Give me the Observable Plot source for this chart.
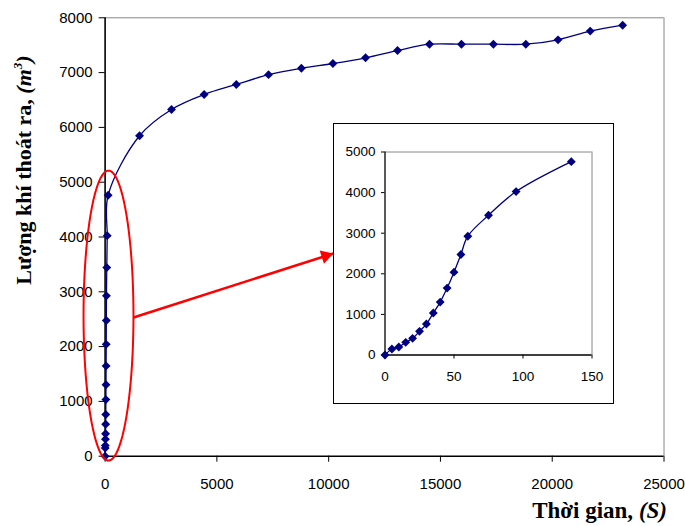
<!DOCTYPE html>
<html>
<head>
<meta charset="utf-8">
<script src="https://cdn.jsdelivr.net/npm/d3@7"></script>
<script src="https://cdn.jsdelivr.net/npm/@observablehq/plot@0.6"></script>
<style>
  html, body { margin: 0; padding: 0; background: #fff; }
  #wrap { position: relative; width: 685px; height: 526px; overflow: hidden; }
  #main { position: absolute; left: 0; top: 0; }
  #inset { position: absolute; left: 333px; top: 123px; width: 279px; height: 279px; border: 1.5px solid #000; background: #fff; }
  #inset svg { display: block; }
  .ttl { position: absolute; font-family: "Liberation Serif", "Times New Roman", serif; font-weight: bold; white-space: nowrap; color: #000; line-height: 1; }
  #xtitle { right: 18px; top: 499px; font-size: 23px; }
  #ytitle { left: 24px; top: 170px; font-size: 22px; transform: translate(-50%, -50%) rotate(-90deg); }
  sup { font-size: 0.6em; vertical-align: 0.7em; line-height: 0; }
</style>
</head>
<body>
<div id="wrap">
  <div id="main"></div>
  <div id="inset"></div>
  <div class="ttl" id="xtitle">Thời gian, <i>(S)</i></div>
  <div class="ttl" id="ytitle">Lượng khí thoát ra, <i>(m<sup>3</sup>)</i></div>
</div>
<script>
// ---- Data ----
// Early readings (seconds) – shown in the inset
const earlyTime = [0, 5, 10, 15, 20, 25, 30, 35, 40, 45, 50, 55, 60, 75, 95, 135];
const earlyGas  = [0, 148, 197, 311, 410, 582, 762, 1033, 1303, 1648, 2041, 2476, 2926, 3442, 4025, 4762];
// Later readings (seconds)
const lateTime = [1540, 2970, 4430, 5870, 7310, 8780, 10190, 11650, 13080, 14510, 15940, 17370, 18820, 20260, 21700, 23150];
const lateGas  = [5847, 6327, 6600, 6783, 6962, 7080, 7166, 7270, 7403, 7518, 7518, 7518, 7518, 7598, 7757, 7865];

// Tick labels
const mainXTicks  = [0, 5000, 10000, 15000, 20000, 25000];
const mainYTicks  = [0, 1000, 2000, 3000, 4000, 5000, 6000, 7000, 8000];
const insetXTicks = [0, 50, 100, 150];
const insetYTicks = [0, 1000, 2000, 3000, 4000, 5000];

// Annotation: highlight ellipse (data units) and arrow to the inset
const ellipseCenter = {t: 152, gas: 2566};
const ellipseRadius = {t: 1117, gas: 2646};
const arrowFrom = {t: 1269, gas: 2531};
const arrowTo   = {t: 10206, gas: 3699};

// ---- Build tables ----
const early = earlyTime.map((t, i) => ({t, gas: earlyGas[i]}));
const all = early.concat(lateTime.map((t, i) => ({t, gas: lateGas[i]})));
const ellipse = d3.range(0, 361, 4).map(a => {
  const r = a * Math.PI / 180;
  return {t: ellipseCenter.t + ellipseRadius.t * Math.cos(r), gas: ellipseCenter.gas + ellipseRadius.gas * Math.sin(r)};
});

const NAVY = "#000080";
const RED = "#ff0000";
const fmt = d => String(d);

const main = Plot.plot({
  width: 685,
  height: 526,
  marginLeft: 104.6,
  marginRight: 21.5,
  marginTop: 17.3,
  marginBottom: 70.3,
  x: {domain: [0, 25000]},
  y: {domain: [0, 8000]},
  style: {fontFamily: "'Liberation Sans', Arial, sans-serif", fontSize: "15px", color: "#000", background: "#fff", overflow: "visible"},
  marks: [
    Plot.ruleY([8000], {stroke: "#888", strokeWidth: 1}),
    Plot.ruleX([25000], {stroke: "#888", strokeWidth: 1}),
    Plot.axisX({ticks: mainXTicks, tickSize: 6, tickPadding: 16, tickFormat: fmt, label: null}),
    Plot.axisY({ticks: mainYTicks, tickSize: 6, tickPadding: 6.5, tickFormat: fmt, label: null}),
    Plot.ruleX([0], {stroke: "#000", strokeWidth: 1.6}),
    Plot.ruleY([0], {stroke: "#000", strokeWidth: 1.6}),
    Plot.line(all, {x: "t", y: "gas", curve: "catmull-rom", stroke: NAVY, strokeWidth: 1.3}),
    Plot.dot(all, {x: "t", y: "gas", symbol: "diamond2", r: 4, fill: NAVY, stroke: "none"}),
    Plot.line(ellipse, {x: "t", y: "gas", stroke: RED, strokeWidth: 2, curve: "linear"}),
    Plot.link([{x1: arrowFrom.t, y1: arrowFrom.gas, x2: arrowTo.t, y2: arrowTo.gas}], {x1: "x1", y1: "y1", x2: "x2", y2: "y2", stroke: RED, strokeWidth: 2.5}),
    Plot.dot([arrowTo], {x: "t", y: "gas", symbol: "triangle", r: 5.2, fill: RED, stroke: "none", rotate: 72.3, dx: -7.6, dy: 2.4})
  ]
});
document.getElementById("main").append(main);

const inset = Plot.plot({
  width: 279,
  height: 279,
  marginLeft: 50.5,
  marginRight: 21.5,
  marginTop: 27.5,
  marginBottom: 48.5,
  x: {domain: [0, 150]},
  y: {domain: [0, 5000]},
  style: {fontFamily: "'Liberation Sans', Arial, sans-serif", fontSize: "13.5px", color: "#000", background: "#fff", overflow: "visible"},
  marks: [
    Plot.ruleY([5000], {stroke: "#888", strokeWidth: 1}),
    Plot.ruleX([150], {stroke: "#888", strokeWidth: 1}),
    Plot.axisX({ticks: insetXTicks, tickSize: 4, tickPadding: 12.5, tickFormat: fmt, label: null}),
    Plot.axisY({ticks: insetYTicks, tickSize: 3.5, tickPadding: 6, tickFormat: fmt, label: null}),
    Plot.ruleX([0], {stroke: "#000", strokeWidth: 1.3}),
    Plot.ruleY([0], {stroke: "#000", strokeWidth: 1.3}),
    Plot.line(early, {x: "t", y: "gas", curve: "catmull-rom", stroke: NAVY, strokeWidth: 1.3}),
    Plot.dot(early, {x: "t", y: "gas", symbol: "diamond2", r: 4, fill: NAVY, stroke: "none"})
  ]
});
document.getElementById("inset").append(inset);
</script>
</body>
</html>
